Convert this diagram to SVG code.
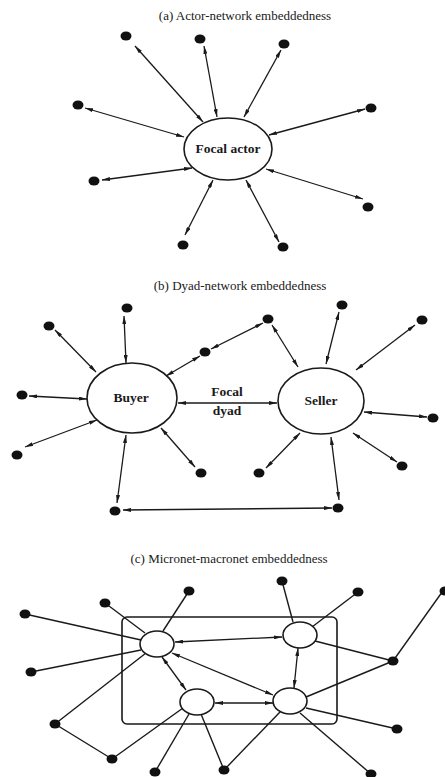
<svg xmlns="http://www.w3.org/2000/svg" width="445" height="777" viewBox="0 0 445 777">
  <defs>
    <marker id="ah" viewBox="0 0 8 4" refX="8" refY="2" markerWidth="8" markerHeight="4" markerUnits="userSpaceOnUse" orient="auto-start-reverse">
      <path d="M0,0 L8,2 L0,4 z" fill="#1a1a1a"/>
    </marker>
  </defs>
  <style>
    .title { font-family: "Liberation Serif", "Times New Roman", serif; font-size: 13px; fill: #1a1a1a; text-anchor: middle; }
    .label { font-family: "Liberation Serif", "Times New Roman", serif; font-size: 13.5px; font-weight: bold; fill: #1a1a1a; text-anchor: middle; }
    .actor { fill: #fff; stroke: #1a1a1a; stroke-width: 1.6; }
    .dot { fill: #111; }
    .arr { stroke: #1a1a1a; stroke-width: 1.3; fill: none; marker-start: url(#ah); marker-end: url(#ah); }
    .tie { stroke: #1a1a1a; stroke-width: 1.4; fill: none; }
    .box { fill: none; stroke: #1a1a1a; stroke-width: 1.6; }
  </style>
  <rect width="445" height="777" fill="#fff"/>

  <!-- (a) Actor-network embeddedness -->
  <text class="title" x="245" y="20">(a) Actor-network embeddedness</text>
  <g id="a-connectors">
    <line class="arr" x1="135" y1="46" x2="203" y2="122"/>
    <line class="arr" x1="204" y1="46" x2="217" y2="117"/>
    <line class="arr" x1="281" y1="50" x2="244" y2="117"/>
    <line class="arr" x1="365" y1="109" x2="269" y2="135"/>
    <line class="arr" x1="85" y1="108" x2="184" y2="137"/>
    <line class="arr" x1="102" y1="180" x2="192" y2="168"/>
    <line class="arr" x1="363" y1="199" x2="266" y2="169"/>
    <line class="arr" x1="185" y1="235" x2="213" y2="180"/>
    <line class="arr" x1="279" y1="242" x2="246" y2="180"/>
  </g>
  <g id="a-focal-actor">
    <ellipse class="actor" cx="228" cy="149" rx="44" ry="31"/>
    <text class="label" x="228" y="153">Focal actor</text>
  </g>
  <g id="a-others">
    <ellipse class="dot" cx="126" cy="36" rx="5.5" ry="4.5"/>
    <ellipse class="dot" cx="200" cy="39" rx="5.5" ry="4.5"/>
    <ellipse class="dot" cx="284" cy="44" rx="5.5" ry="4.5"/>
    <ellipse class="dot" cx="371" cy="108" rx="5.5" ry="4.5"/>
    <ellipse class="dot" cx="78" cy="105" rx="5.5" ry="4.5"/>
    <ellipse class="dot" cx="94" cy="181" rx="5.5" ry="4.5"/>
    <ellipse class="dot" cx="368" cy="207" rx="5.5" ry="4.5"/>
    <ellipse class="dot" cx="183" cy="245" rx="5.5" ry="4.5"/>
    <ellipse class="dot" cx="283" cy="247" rx="5.5" ry="4.5"/>
  </g>

  <!-- (b) Dyad-network embeddedness -->
  <text class="title" x="240" y="290">(b) Dyad-network embeddedness</text>
  <g id="b-connectors">
    <line class="arr" x1="124" y1="316" x2="126" y2="363"/>
    <line class="arr" x1="55" y1="330" x2="96" y2="372"/>
    <line class="arr" x1="29" y1="396" x2="87" y2="399"/>
    <line class="arr" x1="25" y1="447" x2="97" y2="420"/>
    <line class="arr" x1="195" y1="467" x2="161" y2="428"/>
    <line class="arr" x1="117" y1="503" x2="126" y2="435"/>
    <line class="arr" x1="200" y1="356" x2="166" y2="376"/>
    <line class="arr" x1="211" y1="349" x2="263" y2="323"/>
    <line class="arr" x1="272" y1="325" x2="298" y2="367"/>
    <line class="arr" x1="339" y1="312" x2="326" y2="364"/>
    <line class="arr" x1="415" y1="325" x2="356" y2="370"/>
    <line class="arr" x1="427" y1="417" x2="364" y2="412"/>
    <line class="arr" x1="397" y1="462" x2="353" y2="433"/>
    <line class="arr" x1="266" y1="468" x2="300" y2="433"/>
    <line class="arr" x1="339" y1="500" x2="331" y2="437"/>
    <line class="arr" x1="123" y1="510" x2="332" y2="508"/>
    <line class="arr" x1="178" y1="403" x2="277" y2="403"/>
  </g>
  <g id="b-dyad-label">
    <text class="label" x="227" y="396">Focal</text>
    <text class="label" x="227" y="415">dyad</text>
  </g>
  <g id="b-buyer">
    <ellipse class="actor" cx="132" cy="398" rx="45" ry="35"/>
    <text class="label" x="131" y="402">Buyer</text>
  </g>
  <g id="b-seller">
    <ellipse class="actor" cx="321" cy="401" rx="43" ry="33"/>
    <text class="label" x="321" y="405">Seller</text>
  </g>
  <g id="b-others">
    <ellipse class="dot" cx="127" cy="308" rx="5.5" ry="4.5"/>
    <ellipse class="dot" cx="49" cy="326" rx="5.5" ry="4.5"/>
    <ellipse class="dot" cx="22" cy="395" rx="5.5" ry="4.5"/>
    <ellipse class="dot" cx="17" cy="455" rx="5.5" ry="4.5"/>
    <ellipse class="dot" cx="201" cy="473" rx="5.5" ry="4.5"/>
    <ellipse class="dot" cx="115" cy="511" rx="5.5" ry="4.5"/>
    <ellipse class="dot" cx="205" cy="352" rx="5.5" ry="4.5"/>
    <ellipse class="dot" cx="268" cy="319" rx="5.5" ry="4.5"/>
    <ellipse class="dot" cx="342" cy="305" rx="5.5" ry="4.5"/>
    <ellipse class="dot" cx="422" cy="320" rx="5.5" ry="4.5"/>
    <ellipse class="dot" cx="433" cy="418" rx="5.5" ry="4.5"/>
    <ellipse class="dot" cx="402" cy="466" rx="5.5" ry="4.5"/>
    <ellipse class="dot" cx="259" cy="473" rx="5.5" ry="4.5"/>
    <ellipse class="dot" cx="338" cy="508" rx="5.5" ry="4.5"/>
  </g>

  <!-- (c) Micronet-macronet embeddedness -->
  <text class="title" x="229" y="563">(c) Micronet-macronet embeddedness</text>
  <g id="c-micronet">
    <rect class="box" x="122" y="617" width="215" height="107" rx="5"/>
  </g>
  <g id="c-connectors">
    <line class="tie" x1="25" y1="614" x2="141" y2="640"/>
    <line class="tie" x1="105" y1="603" x2="145" y2="633"/>
    <line class="tie" x1="189" y1="591" x2="163" y2="631"/>
    <line class="tie" x1="31" y1="672" x2="141" y2="650"/>
    <line class="tie" x1="55" y1="724" x2="146" y2="653"/>
    <line class="tie" x1="55" y1="724" x2="112" y2="759"/>
    <line class="tie" x1="112" y1="759" x2="183" y2="708"/>
    <line class="tie" x1="155" y1="772" x2="189" y2="714"/>
    <line class="tie" x1="224" y1="770" x2="201" y2="714"/>
    <line class="tie" x1="224" y1="770" x2="280" y2="712"/>
    <line class="tie" x1="371" y1="774" x2="300" y2="713"/>
    <line class="tie" x1="397" y1="729" x2="306" y2="708"/>
    <line class="tie" x1="393" y1="661" x2="306" y2="697"/>
    <line class="tie" x1="393" y1="661" x2="315" y2="641"/>
    <line class="tie" x1="393" y1="661" x2="445" y2="588"/>
    <line class="tie" x1="282" y1="581" x2="293" y2="622"/>
    <line class="tie" x1="358" y1="592" x2="312" y2="627"/>
    <line class="arr" x1="175" y1="642" x2="282" y2="637"/>
    <line class="arr" x1="162" y1="657" x2="186" y2="690"/>
    <line class="arr" x1="172" y1="653" x2="273" y2="695"/>
    <line class="arr" x1="215" y1="703" x2="273" y2="703"/>
    <line class="arr" x1="298" y1="648" x2="294" y2="688"/>
  </g>
  <g id="c-actor-1">
    <ellipse class="actor" cx="157" cy="644" rx="17" ry="13"/>
  </g>
  <g id="c-actor-2">
    <ellipse class="actor" cx="300" cy="635" rx="17" ry="13"/>
  </g>
  <g id="c-actor-3">
    <ellipse class="actor" cx="197" cy="702" rx="17" ry="13"/>
  </g>
  <g id="c-actor-4">
    <ellipse class="actor" cx="290" cy="701" rx="17" ry="13"/>
  </g>
  <g id="c-others">
    <ellipse class="dot" cx="25" cy="614" rx="5.5" ry="4.5"/>
    <ellipse class="dot" cx="105" cy="603" rx="5.5" ry="4.5"/>
    <ellipse class="dot" cx="189" cy="591" rx="5.5" ry="4.5"/>
    <ellipse class="dot" cx="282" cy="581" rx="5.5" ry="4.5"/>
    <ellipse class="dot" cx="358" cy="592" rx="5.5" ry="4.5"/>
    <ellipse class="dot" cx="445" cy="591" rx="5.5" ry="4.5"/>
    <ellipse class="dot" cx="393" cy="661" rx="5.5" ry="4.5"/>
    <ellipse class="dot" cx="31" cy="672" rx="5.5" ry="4.5"/>
    <ellipse class="dot" cx="55" cy="724" rx="5.5" ry="4.5"/>
    <ellipse class="dot" cx="112" cy="759" rx="5.5" ry="4.5"/>
    <ellipse class="dot" cx="155" cy="772" rx="5.5" ry="4.5"/>
    <ellipse class="dot" cx="224" cy="770" rx="5.5" ry="4.5"/>
    <ellipse class="dot" cx="371" cy="774" rx="5.5" ry="4.5"/>
    <ellipse class="dot" cx="397" cy="729" rx="5.5" ry="4.5"/>
  </g>
</svg>
